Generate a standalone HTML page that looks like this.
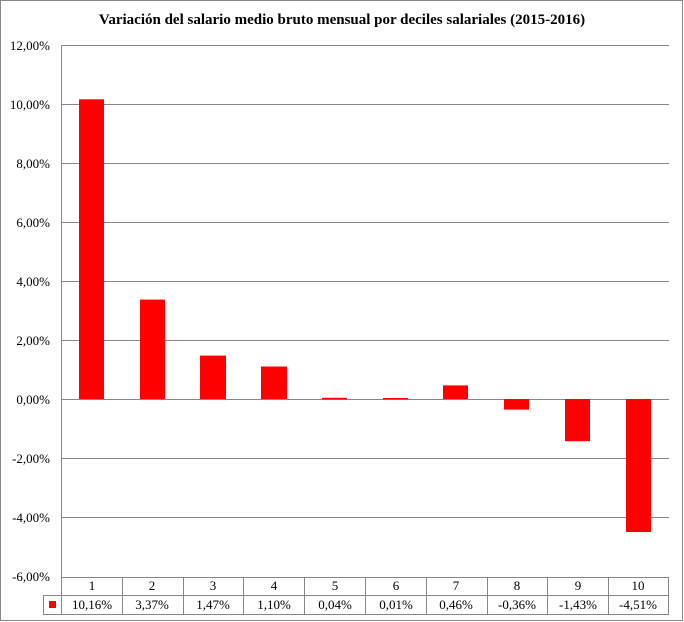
<!DOCTYPE html>
<html><head><style>body{margin:0;background:#fff}svg{display:block}</style></head><body>
<svg width="684" height="622" xmlns="http://www.w3.org/2000/svg" font-family="Liberation Serif, serif">
<rect x="0.5" y="0.5" width="682" height="620" fill="#fff" stroke="#888"/>
<text x="342" y="24" text-anchor="middle" font-size="15" font-weight="bold">Variación  del salario medio bruto  mensual por deciles salariales (2015-2016)</text>
<g stroke="#888" stroke-width="1">
<line x1="61" y1="45.5" x2="669" y2="45.5"/>
<line x1="61" y1="104.5" x2="669" y2="104.5"/>
<line x1="61" y1="163.5" x2="669" y2="163.5"/>
<line x1="61" y1="222.5" x2="669" y2="222.5"/>
<line x1="61" y1="281.5" x2="669" y2="281.5"/>
<line x1="61" y1="340.5" x2="669" y2="340.5"/>
<line x1="61" y1="399.5" x2="669" y2="399.5"/>
<line x1="61" y1="458.5" x2="669" y2="458.5"/>
<line x1="61" y1="517.5" x2="669" y2="517.5"/>
<line x1="61.5" y1="45" x2="61.5" y2="577"/>
</g>
<g font-size="13" text-anchor="end" fill="#000">
<text x="50" y="50">12,00%</text><text x="50" y="109">10,00%</text><text x="50" y="168">8,00%</text>
<text x="50" y="227">6,00%</text><text x="50" y="286">4,00%</text><text x="50" y="345">2,00%</text>
<text x="50" y="404">0,00%</text><text x="50" y="463">-2,00%</text><text x="50" y="522">-4,00%</text><text x="50" y="581">-6,00%</text>
</g>
<g fill="#ff0000">
<rect x="79" y="99.3" width="25" height="299.7"/>
<rect x="140" y="299.6" width="25" height="99.4"/>
<rect x="200" y="355.6" width="26" height="43.4"/>
<rect x="261" y="366.5" width="26" height="32.5"/>
<rect x="322" y="397.8" width="25" height="1.6"/>
<rect x="383" y="398" width="25" height="1.4"/>
<rect x="443" y="385.4" width="25" height="13.6"/>
<rect x="504" y="399" width="25" height="10.6"/>
<rect x="565" y="399" width="25" height="42.2"/>
<rect x="626" y="399" width="25" height="133"/>
</g>
<g stroke="#888" fill="none">
<line x1="61" y1="577.5" x2="669" y2="577.5"/>
<line x1="43" y1="595.5" x2="669" y2="595.5"/>
<line x1="43" y1="614.5" x2="669" y2="614.5"/>
<line x1="43.5" y1="595" x2="43.5" y2="615"/>
<line x1="61.5" y1="577" x2="61.5" y2="615"/>
<line x1="122.5" y1="577" x2="122.5" y2="615"/>
<line x1="183.5" y1="577" x2="183.5" y2="615"/>
<line x1="243.5" y1="577" x2="243.5" y2="615"/>
<line x1="304.5" y1="577" x2="304.5" y2="615"/>
<line x1="365.5" y1="577" x2="365.5" y2="615"/>
<line x1="426.5" y1="577" x2="426.5" y2="615"/>
<line x1="487.5" y1="577" x2="487.5" y2="615"/>
<line x1="547.5" y1="577" x2="547.5" y2="615"/>
<line x1="608.5" y1="577" x2="608.5" y2="615"/>
<line x1="668.5" y1="577" x2="668.5" y2="615"/>
</g>
<rect x="49" y="601" width="7" height="7" fill="#ff0000"/>
<g font-size="13" text-anchor="middle">
<text x="92" y="590">1</text><text x="152" y="590">2</text><text x="213" y="590">3</text><text x="274" y="590">4</text><text x="335" y="590">5</text>
<text x="396" y="590">6</text><text x="456" y="590">7</text><text x="517" y="590">8</text><text x="578" y="590">9</text><text x="638" y="590">10</text>
<text x="92" y="609">10,16%</text><text x="152" y="609">3,37%</text><text x="213" y="609">1,47%</text><text x="274" y="609">1,10%</text><text x="335" y="609">0,04%</text>
<text x="396" y="609">0,01%</text><text x="456" y="609">0,46%</text><text x="517" y="609">-0,36%</text><text x="578" y="609">-1,43%</text><text x="638" y="609">-4,51%</text>
</g>
</svg>
</body></html>
